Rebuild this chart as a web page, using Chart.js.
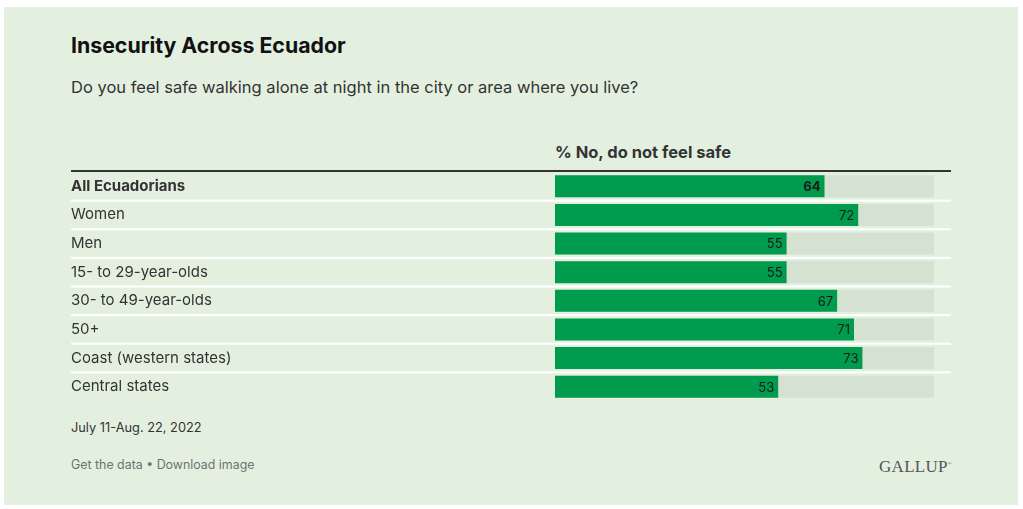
<!DOCTYPE html>
<html>
<head>
<meta charset="utf-8">
<script src="https://cdn.jsdelivr.net/npm/chart.js@4"></script>
<style>
  body { margin: 0; background: #fff; font-family: Inter, "Noto Sans", sans-serif; }
  .card { position: absolute; left: 4px; top: 7px; width: 1014px; height: 498px; background: rgb(227,240,224); }
  .t { position: absolute; white-space: nowrap; }
  #title { left: 71px; top: 33px; font-size: 21.3px; line-height: 24px; font-weight: 700; color: #111; }
  #sub { left: 71px; top: 76px; font-size: 16.5px; line-height: 22px; color: #333; }
  #head { left: 555px; top: 142px; font-size: 16.5px; line-height: 20px; font-weight: 700; color: #333; }
  #rule { position: absolute; left: 71px; top: 170px; width: 880px; height: 2px; background: #333; }
  #date { left: 71px; top: 419px; font-size: 12.8px; line-height: 18px; color: #333; }
  #links { left: 71px; top: 456px; font-size: 12.4px; line-height: 18px; color: #707070; }
  #logo { left: 879px; top: 455px; font-family: "Liberation Serif", serif; font-size: 17px; line-height: 18px; color: #555; letter-spacing: 0.3px; }
  #wrap { position: absolute; left: 71px; top: 172px; width: 880px; height: 229px; }
</style>
</head>
<body>
<div class="card"></div>
<div class="t" id="title">Insecurity Across Ecuador</div>
<div class="t" id="sub">Do you feel safe walking alone at night in the city or area where you live?</div>
<div class="t" id="head">% No, do not feel safe</div>
<div id="rule"></div>
<div id="wrap"><canvas id="chart"></canvas></div>
<div class="t" id="date">July 11-Aug. 22, 2022</div>
<div class="t" id="links">Get the data • Download image</div>
<div class="t" id="logo">GALLUP<sup style="font-size:5px">®</sup></div>
<script>
var groups = ['All Ecuadorians', 'Women', 'Men', '15- to 29-year-olds', '30- to 49-year-olds', '50+', 'Coast (western states)', 'Central states'];
var noSafe = [64, 72, 55, 55, 67, 71, 73, 53];
var axisMax = 90;

var rowBack = {
  id: 'rowBack',
  beforeDatasetsDraw: function(chart) {
    var ctx = chart.ctx, y = chart.scales.y, x = chart.scales.x;
    var meta = chart.getDatasetMeta(0);
    ctx.save();
    meta.data.forEach(function(bar) {
      ctx.fillStyle = 'rgb(213,226,209)';
      ctx.fillRect(x.getPixelForValue(0), bar.y - bar.height / 2, x.getPixelForValue(axisMax) - x.getPixelForValue(0), bar.height);
    });
    // white separators between rows
    ctx.fillStyle = '#ffffff';
    for (var i = 1; i < groups.length; i++) {
      var yy = (y.getPixelForValue(i - 1) + y.getPixelForValue(i)) / 2;
      ctx.fillRect(0, yy - 1, chart.width, 2);
    }
    ctx.restore();
  },
  afterDatasetsDraw: function(chart) {
    var ctx = chart.ctx;
    var meta = chart.getDatasetMeta(0);
    ctx.save();
    ctx.textAlign = 'right';
    ctx.textBaseline = 'middle';
    meta.data.forEach(function(bar, i) {
      ctx.font = (i === 0 ? 'bold ' : '') + '13px Inter, "Noto Sans", sans-serif';
      ctx.fillStyle = '#1a1a1a';
      ctx.fillText(noSafe[i], bar.x - 4, bar.y + 1);
    });
    ctx.restore();
  }
};

new Chart(document.getElementById('chart'), {
  type: 'bar',
  data: {
    labels: groups,
    datasets: [{
      data: noSafe,
      backgroundColor: 'rgb(0,155,77)',
      borderWidth: 0,
      categoryPercentage: 1,
      barPercentage: 0.77
    }]
  },
  options: {
    indexAxis: 'y',
    responsive: true,
    maintainAspectRatio: false,
    animation: false,
    layout: { padding: { left: 0, right: 17, top: 0, bottom: 0 } },
    plugins: { legend: { display: false }, tooltip: { enabled: false } },
    scales: {
      x: {
        min: 0, max: axisMax,
        display: false
      },
      y: {
        grid: { display: false, drawTicks: false },
        border: { display: false },
        afterFit: function(scale) {
          scale.width = 484;
          scale.paddingTop = 0;
          scale.paddingBottom = 0;
        },
        ticks: {
          crossAlign: 'far',
          padding: 0,
          color: '#333',
          font: function(c) {
            return { family: 'Inter, "Noto Sans", sans-serif', size: 15, weight: c.index === 0 ? 'bold' : 'normal' };
          }
        }
      }
    }
  },
  plugins: [rowBack]
});
</script>
</body>
</html>
